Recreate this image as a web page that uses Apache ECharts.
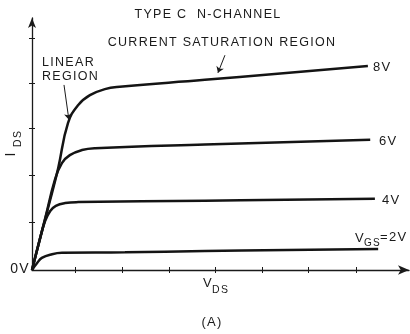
<!DOCTYPE html>
<html>
<head>
<meta charset="utf-8">
<script src="https://cdn.jsdelivr.net/npm/echarts@6/dist/echarts.min.js"></script>
<style>
  html, body { margin: 0; padding: 0; background: #fff; }
  #chart { width: 410px; height: 334px; }
</style>
</head>
<body>
<div id="chart"></div>
<script>
// hand lettering is widely spaced: add tracking to every canvas text draw
var fillText0 = CanvasRenderingContext2D.prototype.fillText;
CanvasRenderingContext2D.prototype.fillText = function () {
	this.letterSpacing = '1.3px';
	return fillText0.apply(this, arguments);
};

// axis units: one tick step on each axis (VDS, IDS are unscaled)
var xTicks = [0.92, 1.93, 2.93, 3.92, 4.93, 5.91, 6.94];
var yTicks = [1.03, 2.04, 3.05, 4.02, 4.99];

// [VDS, IDS] points
var curve8V = [[0, 0], [0.19, 0.75], [0.39, 1.51], [0.56, 2.19], [0.77, 3.16], [0.99, 3.55], [1.24, 3.76], [1.56, 3.89], [1.88, 3.94], [3.70, 4.09], [7.19, 4.39]];
var curve6V = [[0, 0], [0.28, 1.10], [0.49, 1.94], [0.64, 2.30], [0.81, 2.47], [1.07, 2.58], [1.35, 2.62], [3.70, 2.70], [7.24, 2.80]];
var curve4V = [[0, 0], [0.17, 0.67], [0.28, 1.05], [0.39, 1.27], [0.51, 1.38], [0.71, 1.44], [0.99, 1.46], [3.70, 1.49], [7.34, 1.53]];
var curve2V = [[0, 0], [0.11, 0.15], [0.21, 0.26], [0.43, 0.34], [0.64, 0.37], [1.99, 0.38], [3.70, 0.41], [7.41, 0.45]];

// pointer arrows [from, to]
var linearArrow = [[0.685, 3.98], [0.79, 3.23]];
var saturationArrow = [[4.13, 4.62], [3.98, 4.24]];

var ink = '#1a1a1a';
var font = 'Liberation Sans';

function curve(name, data) {
	return {
		name: name,
		type: 'line',
		data: data,
		symbol: 'none',
		smooth: 0.45,
		clip: false,
		lineStyle: { color: '#141414', width: 2.5 }
	};
}

function label(text, x, y, size, align, rot) {
	return {
		type: 'text',
		silent: true,
		x: x, y: y,
		rotation: rot || 0,
		style: {
			text: text, x: 0, y: 0,
			font: size + 'px "' + font + '"',
			fill: ink,
			align: align || 'left',
			verticalAlign: 'middle'
		}
	};
}

function xAx(inside) {
	return {
		type: 'value', min: 0, max: 8.07, position: 'bottom',
		axisLine: {
			show: !inside, onZero: false,
			symbol: ['none', 'arrow'], symbolSize: [7, 11],
			lineStyle: { color: ink, width: 1.3 }
		},
		axisTick: { show: true, inside: inside, length: 3, customValues: xTicks, lineStyle: { color: ink, width: 1 } },
		axisLabel: { show: false },
		splitLine: { show: false }
	};
}

function yAx(inside) {
	return {
		type: 'value', min: 0, max: 5.42, position: 'left',
		axisLine: {
			show: !inside, onZero: false,
			symbol: ['none', 'arrow'], symbolSize: [6, 10],
			lineStyle: { color: ink, width: 1.3 }
		},
		axisTick: { show: true, inside: inside, length: 3, customValues: yTicks, lineStyle: { color: ink, width: 1 } },
		axisLabel: { show: false },
		splitLine: { show: false }
	};
}

var s8 = curve('8V', curve8V);
s8.markLine = {
	silent: true,
	animation: false,
	symbol: ['none', 'arrow'],
	symbolSize: 6,
	label: { show: false },
	lineStyle: { color: ink, width: 1, type: 'solid' },
	data: [
		[{ coord: linearArrow[0] }, { coord: linearArrow[1] }],
		[{ coord: saturationArrow[0] }, { coord: saturationArrow[1] }]
	]
};

var up = Math.PI / 2;

var option = {
	backgroundColor: '#fff',
	animation: false,
	grid: { left: 32, top: 18, right: 1, bottom: 64, outerBoundsMode: 'none' },
	xAxis: [xAx(false), xAx(true)],
	yAxis: [yAx(false), yAx(true)],
	series: [s8, curve('6V', curve6V), curve('4V', curve4V), curve('2V', curve2V)],
	graphic: [
		label('TYPE C  N-CHANNEL', 208, 15, 12.5, 'center'),
		label('CURRENT SATURATION REGION', 222, 43, 12.5, 'center'),
		label('LINEAR', 42, 63, 12.5),
		label('REGION', 42, 77, 12.5),
		label('8V', 373, 67, 13),
		label('6V', 379, 141, 13),
		label('4V', 382, 200, 13),
		label('V', 355, 238, 13),
		label('GS', 364, 243, 10),
		label('=2V', 380, 237, 13),
		label('0V', 30, 269, 14, 'right'),
		label('V', 203, 283, 13),
		label('DS', 212, 290, 10.5),
		label('(A)', 212, 322, 13, 'center'),
		label('I', 11, 154, 14, 'center', up),
		label('DS', 18, 147, 10.5, 'left', up)
	]
};

var chart = echarts.init(document.getElementById('chart'));
chart.setOption(option);
</script>
</body>
</html>
